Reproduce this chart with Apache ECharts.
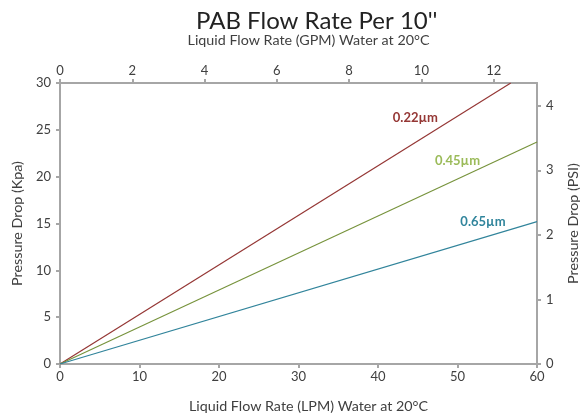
<!DOCTYPE html>
<html>
<head>
<meta charset="utf-8">
<script src="https://cdn.jsdelivr.net/npm/echarts@6/dist/echarts.min.js"></script>
<style>
  html, body { margin: 0; padding: 0; background: #fff; }
</style>
</head>
<body>
<div id="chart" style="width:588px;height:418px"></div>
<script>
// series: [LPM, kPa]
var seriesNames = ["0.22µm", "0.45µm", "0.65µm"];
var line022 = [[0, 0], [56.7, 30]];
var line045 = [[0, 0], [60, 23.7]];
var line065 = [[0, 0], [60, 15.2]];
var lineColors = ["#953735", "#77933C", "#31849B"];
var labelColors = ["#953735", "#9BBB59", "#31859C"];
// where each label sits [LPM, kPa]
var labelAt = [[44.7, 26.3], [50.0, 21.7], [53.2, 15.2]];

var gpmMax = 60 / 4.546;   // imperial gallons
var psiMax = 30 / 6.895;

var axisGray = "#a6a6a6";
var textGray = "#404040";
var font = "Lato";

var chart = echarts.init(document.getElementById("chart"));

function makeSeries(i, data) {
  return {
    name: seriesNames[i],
    type: "line",
    xAxisIndex: 0,
    yAxisIndex: 0,
    data: data,
    symbol: "none",
    silent: true,
    lineStyle: { color: lineColors[i], width: 1.2 },
    markPoint: {
      symbol: "circle",
      symbolSize: 0,
      data: [{
        coord: labelAt[i],
        label: {
          show: true,
          formatter: seriesNames[i],
          color: labelColors[i],
          fontWeight: "bold",
          fontSize: 13,
          fontFamily: font
        }
      }]
    }
  };
}

function axisCommon(extra) {
  var base = {
    type: "value",
    nameLocation: "middle",
    nameTextStyle: { fontSize: 14.3, color: textGray, fontFamily: font },
    axisLine: { show: true, onZero: false, lineStyle: { color: axisGray, width: 2 } },
    axisTick: { show: true, inside: false, length: 4, lineStyle: { color: axisGray, width: 2 } },
    axisLabel: { color: textGray, fontSize: 13, fontFamily: font, margin: 6 },
    splitLine: { show: false }
  };
  for (var k in extra) base[k] = extra[k];
  return base;
}

var option = {
  animation: false,
  title: {
    text: "PAB Flow Rate Per 10''",
    left: 191,
    top: 4,
    textStyle: { fontSize: 24, fontWeight: "normal", color: "#222", fontFamily: font }
  },
  grid: { left: 60, right: 51, top: 83, bottom: 45 },
  xAxis: [
    axisCommon({
      position: "bottom",
      min: 0, max: 60, interval: 10,
      name: "Liquid Flow Rate (LPM) Water at 20°C",
      nameGap: 35,
      nameTextStyle: { fontSize: 14.3, color: textGray, fontFamily: font, padding: [0, 0, 0, 20] }
    }),
    axisCommon({
      position: "top",
      min: 0, max: gpmMax, interval: 2,
      name: "Liquid Flow Rate (GPM) Water at 20°C",
      nameGap: 36,
      nameTextStyle: { fontSize: 14.3, color: textGray, fontFamily: font, padding: [0, 0, 0, 20] },
      axisLabel: { color: textGray, fontSize: 13, fontFamily: font, margin: 6, showMaxLabel: false }
    })
  ],
  yAxis: [
    axisCommon({
      position: "left",
      min: 0, max: 30, interval: 5,
      name: "Pressure Drop (Kpa)",
      nameGap: 36,
      axisLabel: { color: textGray, fontSize: 13, fontFamily: font, margin: 9 }
    }),
    axisCommon({
      position: "right",
      min: 0, max: psiMax, interval: 1,
      name: "Pressure Drop (PSI)",
      nameGap: 29,
      axisLabel: { color: textGray, fontSize: 13, fontFamily: font, margin: 9, showMaxLabel: false }
    })
  ],
  series: [
    makeSeries(0, line022),
    makeSeries(1, line045),
    makeSeries(2, line065)
  ]
};

chart.setOption(option);
</script>
</body>
</html>
